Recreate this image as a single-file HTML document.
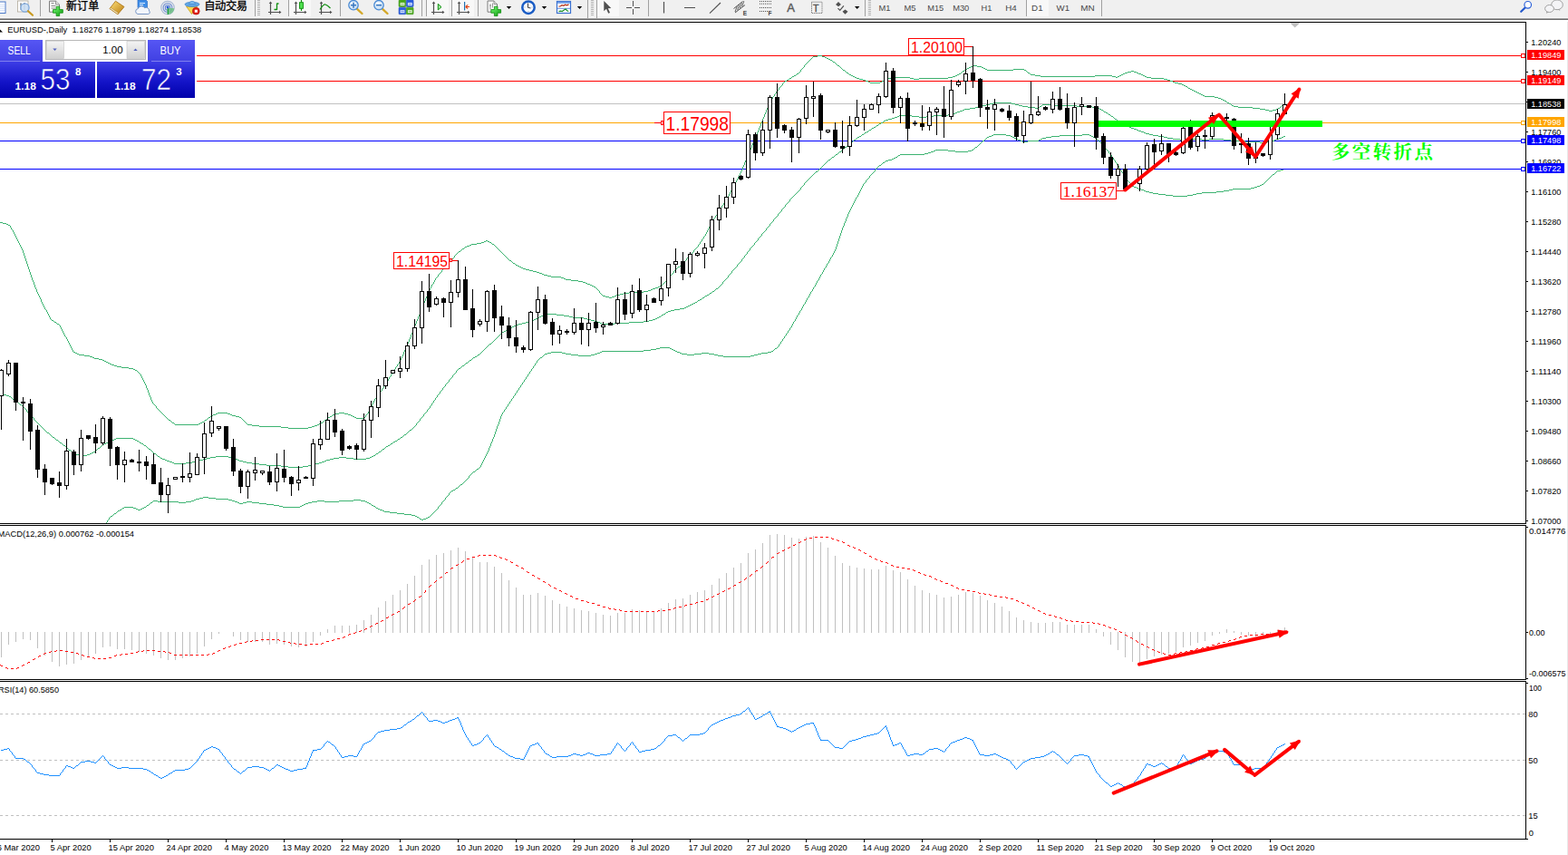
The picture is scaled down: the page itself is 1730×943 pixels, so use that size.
<!DOCTYPE html>
<html><head><meta charset="utf-8"><title>EURUSD Daily</title>
<style>
html,body{margin:0;padding:0;background:#fff;overflow:hidden}
body{width:1730px;height:943px;position:relative;font-family:"Liberation Sans",sans-serif}

</style></head><body>
<svg width="1730" height="943" viewBox="0 0 1730 943" style="position:absolute;left:0;top:0;display:block">
<defs><linearGradient id="gb" gradientUnits="userSpaceOnUse" x1="0" y1="68" x2="0" y2="108"><stop offset="0" stop-color="#3d3de6"/><stop offset="0.55" stop-color="#1414c8"/><stop offset="1" stop-color="#0000aa"/></linearGradient><linearGradient id="gt" x1="0" y1="0" x2="0" y2="1"><stop offset="0" stop-color="#5656f4"/><stop offset="1" stop-color="#4040e2"/></linearGradient><linearGradient id="gbtn" x1="0" y1="0" x2="0" y2="1"><stop offset="0" stop-color="#f4f4f4"/><stop offset="0.5" stop-color="#e2e2e2"/><stop offset="1" stop-color="#d0d0d0"/></linearGradient><linearGradient id="gplus" x1="0" y1="0" x2="1" y2="1"><stop offset="0" stop-color="#7dff7d"/><stop offset="1" stop-color="#0a9a0a"/></linearGradient><linearGradient id="ggold" x1="0" y1="0" x2="1" y2="1"><stop offset="0" stop-color="#ffe27a"/><stop offset="1" stop-color="#b87a10"/></linearGradient><radialGradient id="glens" cx="0.4" cy="0.35" r="0.7"><stop offset="0" stop-color="#ffffff"/><stop offset="1" stop-color="#b9d6f2"/></radialGradient><clipPath id="cm"><rect x="0" y="25" width="1683" height="552"/></clipPath><clipPath id="cd"><rect x="0" y="580" width="1683" height="169"/></clipPath><clipPath id="cr"><rect x="0" y="752" width="1683" height="173"/></clipPath></defs>
<rect width="1730" height="943" fill="#fff"/>
<g clip-path="url(#cm)">
<g shape-rendering="crispEdges">
<rect x="217" y="61" width="1466" height="1" fill="#ff0000"/>
<rect x="217" y="89" width="1466" height="1" fill="#ff0000"/>
<rect x="0" y="114" width="1683" height="1" fill="#c0c0c0"/>
<rect x="0" y="135" width="1683" height="1" fill="#ffa500"/>
<rect x="0" y="155" width="1683" height="1" fill="#0000ff"/>
<rect x="0" y="186" width="1683" height="1" fill="#0000ff"/>
</g>
<g stroke="#3cb371" stroke-width="1" fill="none" shape-rendering="crispEdges"><path transform="translate(0 .5)" d="M0 245h3M3 246h4M7 247h2M9 248h2M13 253h1M50 341h1M56 352h1M57 353h2M59 354h1M60 355h2M62 356h1M63 357h2M65 358h1M72 371h1M81 388h2M83 389h2M85 390h2M87 391h6M93 392h6M99 393h3M102 394h2M104 395h5M109 396h4M113 397h2M115 398h2M117 399h2M119 400h2M121 401h2M123 402h3M126 403h3M129 404h5M134 405h8M142 406h5M147 407h2M149 408h2M151 409h1M152 410h1M153 411h1M154 412h1M169 445h1M170 446h1M171 447h1M173 450h1M174 451h1M175 452h1M176 453h1M177 454h1M178 455h1M179 456h1M180 457h1M181 458h1M182 459h1M183 460h1M184 461h1M185 462h1M186 463h2M188 464h1M189 465h1M190 466h2M192 467h1M193 468h26M219 467h2M221 466h2M223 465h2M225 464h1M226 463h2M228 462h1M229 461h1M230 460h2M232 459h1M233 458h2M235 457h3M238 456h2M240 455h11M251 456h3M254 457h2M256 458h4M260 459h4M264 460h2M266 461h1M267 462h1M268 463h1M269 464h1M270 465h1M271 466h1M272 467h1M273 468h5M278 469h8M286 470h24M310 471h8M318 472h22M340 471h4M344 470h3M347 469h3M350 468h2M352 467h2M354 466h2M356 465h1M357 464h1M358 463h2M360 462h1M361 461h1M362 460h2M364 459h2M366 458h1M367 457h2M369 456h5M374 455h6M380 456h4M384 457h3M387 458h2M389 459h2M391 460h2M393 461h9M402 460h1M404 457h1M405 456h1M414 439h1M415 438h1M417 435h1M418 434h1M420 431h1M422 428h1M425 423h1M427 420h1M430 415h1M432 412h1M435 407h1M437 404h1M439 401h1M477 313h1M481 306h1M482 305h1M484 302h1M485 301h1M486 300h1M488 297h1M489 296h1M490 295h1M491 294h1M492 293h1M494 290h1M495 289h1M496 288h1M497 287h1M498 286h1M499 285h1M500 284h1M502 281h1M503 280h1M504 279h1M505 278h1M506 277h2M508 276h1M509 275h1M510 274h2M512 273h1M513 272h2M515 271h3M518 270h2M520 269h6M526 268h5M531 267h3M534 266h2M536 265h2M538 266h2M540 267h2M542 268h1M543 269h2M545 270h1M546 271h1M547 272h1M548 273h1M549 274h1M550 275h1M551 276h1M552 277h1M553 278h1M554 279h1M555 280h1M556 281h1M557 282h1M558 283h1M559 284h1M560 285h1M561 286h1M562 287h2M564 288h1M565 289h1M566 290h2M568 291h1M569 292h2M571 293h2M573 294h2M575 295h2M577 296h3M580 297h4M584 298h4M588 299h4M592 300h3M595 301h3M598 302h2M600 303h4M604 304h4M608 305h11M619 306h3M622 307h2M624 308h6M630 309h8M638 310h5M643 311h3M646 312h2M648 313h3M651 314h2M653 315h2M655 316h2M657 317h1M658 318h1M659 319h1M660 320h1M662 323h1M663 324h1M664 325h1M665 326h3M668 327h4M672 328h3M675 327h3M678 326h2M680 325h4M684 324h4M688 323h6M694 322h16M710 321h5M715 320h3M718 319h2M720 318h3M723 317h3M726 316h2M728 315h2M730 314h1M731 313h1M732 312h1M733 311h1M734 310h1M735 309h1M736 308h1M737 307h1M738 306h1M740 303h1M741 302h1M742 301h1M744 298h1M745 297h1M746 296h1M747 295h1M748 294h2M750 293h1M751 292h1M752 291h1M753 290h1M754 289h1M755 288h1M756 287h1M758 284h1M759 283h1M760 282h1M761 281h1M762 280h1M763 279h1M764 278h1M766 275h1M767 274h1M768 273h1M769 272h1M771 269h1M773 266h1M775 263h1M777 260h1M785 245h1M788 240h1M790 237h1M793 232h1M795 229h1M797 226h1M799 223h1M801 220h1M809 205h1M851 109h1M853 106h1M855 103h1M857 100h1M858 99h1M860 96h1M861 95h1M862 94h1M864 91h1M865 90h1M866 89h2M868 88h2M870 87h1M871 86h2M873 85h1M874 84h2M876 83h2M878 82h1M879 81h2M881 80h1M882 79h1M884 76h1M885 75h1M886 74h1M888 71h1M889 70h1M890 69h1M891 68h1M892 67h1M893 66h1M894 65h1M895 64h1M896 63h1M897 62h5M902 61h5M907 62h3M910 63h2M912 64h2M914 65h2M916 66h2M918 67h1M919 68h2M921 69h1M922 70h1M923 71h1M924 72h2M926 73h1M927 74h1M928 75h1M929 76h1M930 77h2M932 78h1M933 79h1M934 80h2M936 81h1M937 82h2M939 83h2M941 84h2M943 85h2M945 86h3M948 87h4M952 88h3M955 89h3M958 90h2M960 91h11M971 90h2M973 89h2M975 88h2M977 87h3M980 86h4M984 85h20M1004 86h4M1008 87h6M1014 86h32M1046 85h5M1051 84h3M1054 83h2M1056 82h2M1058 81h2M1060 80h1M1061 79h1M1062 78h2M1064 77h1M1065 76h2M1067 75h2M1069 74h2M1071 73h2M1073 72h5M1078 73h5M1083 74h2M1085 75h2M1087 76h2M1089 77h29M1118 76h12M1130 77h2M1132 78h1M1133 79h1M1134 80h2M1136 81h1M1137 82h5M1142 83h6M1148 84h60M1208 83h19M1227 84h4M1231 85h2M1233 84h2M1235 83h2M1237 82h2M1239 81h2M1241 80h3M1244 79h4M1248 78h3M1251 79h3M1254 80h2M1256 81h3M1259 82h2M1261 83h2M1263 84h2M1265 85h5M1270 86h14M1284 87h4M1288 88h3M1291 89h3M1294 90h2M1296 91h4M1300 92h4M1304 93h2M1306 94h2M1308 95h2M1310 96h1M1311 97h2M1313 98h2M1315 99h2M1317 100h2M1319 101h2M1321 102h2M1323 103h2M1325 104h2M1327 105h2M1329 106h11M1340 107h4M1344 108h3M1347 109h2M1349 110h2M1351 111h2M1353 112h1M1354 113h2M1356 114h2M1358 115h1M1359 116h2M1361 117h5M1366 118h16M1382 119h8M1390 120h6M1396 121h4M1400 122h4M1404 121h4M1408 120h2M1410 119h2M1412 118h1M1413 117h1M1414 116h2M1416 115h1M1417 114h1"/><path transform="translate(.5 0)" d="M11 249v2M12 251v2M14 254v2M15 256v2M16 258v2M17 260v2M18 262v2M19 264v2M20 266v2M21 268v2M22 270v2M23 272v2M24 274v2M25 276v3M26 279v3M27 282v3M28 285v3M29 288v3M30 291v3M31 294v3M32 297v3M33 300v3M34 303v3M35 306v3M36 309v2M37 311v3M38 314v3M39 317v2M40 319v3M41 322v2M42 324v2M43 326v2M44 328v2M45 330v3M46 333v2M47 335v2M48 337v2M49 339v2M51 342v2M52 344v2M53 346v2M54 348v2M55 350v2M66 359v2M67 361v2M68 363v2M69 365v2M70 367v2M71 369v2M73 372v2M74 374v2M75 376v2M76 378v2M77 380v2M78 382v2M79 384v2M80 386v2M155 413v2M156 415v2M157 417v2M158 419v2M159 421v2M160 423v2M161 425v3M162 428v2M163 430v3M164 433v3M165 436v2M166 438v3M167 441v2M168 443v2M172 448v2M403 458v2M406 454v2M407 452v2M408 450v2M409 448v2M410 446v2M411 444v2M412 442v2M413 440v2M416 436v2M419 432v2M421 429v2M423 426v2M424 424v2M426 421v2M428 418v2M429 416v2M431 413v2M433 410v2M434 408v2M436 405v2M438 402v2M440 399v2M441 397v2M442 395v2M443 393v2M444 391v2M445 388v3M446 386v2M447 384v2M448 382v2M449 379v3M450 377v2M451 374v3M452 372v2M453 369v3M454 367v2M455 364v3M456 362v2M457 359v3M458 357v2M459 354v3M460 352v2M461 349v3M462 347v2M463 344v3M464 342v2M465 339v3M466 337v2M467 334v3M468 332v2M469 329v3M470 327v2M471 324v3M472 322v2M473 320v2M474 318v2M475 316v2M476 314v2M478 311v2M479 309v2M480 307v2M483 303v2M487 298v2M493 291v2M501 282v2M661 321v2M739 304v2M743 299v2M757 285v2M765 276v2M770 270v2M772 267v2M774 264v2M776 261v2M778 258v2M779 256v2M780 254v2M781 252v2M782 250v2M783 248v2M784 246v2M786 243v2M787 241v2M789 238v2M791 235v2M792 233v2M794 230v2M796 227v2M798 224v2M800 221v2M802 218v2M803 216v2M804 214v2M805 212v2M806 210v2M807 208v2M808 206v2M810 203v2M811 201v2M812 199v2M813 197v2M814 195v2M815 193v2M816 191v2M817 189v2M818 187v2M819 184v3M820 182v2M821 179v3M822 177v2M823 174v3M824 172v2M825 169v3M826 167v2M827 165v2M828 163v2M829 160v3M830 158v2M831 156v2M832 154v2M833 151v3M834 149v2M835 146v3M836 144v2M837 141v3M838 139v2M839 136v3M840 134v2M841 131v3M842 129v2M843 126v3M844 124v2M845 121v3M846 119v2M847 116v3M848 114v2M849 112v2M850 110v2M852 107v2M854 104v2M856 101v2M859 97v2M863 92v2M883 77v2M887 72v2"/></g>
<g stroke="#3cb371" stroke-width="1" fill="none" shape-rendering="crispEdges"><path transform="translate(0 .5)" d="M4 435h3M7 436h3M10 437h2M12 438h1M13 439h1M14 440h2M16 441h1M17 442h1M18 443h2M20 444h1M21 445h1M22 446h2M24 447h1M25 448h1M26 449h1M27 450h1M28 451h1M30 454h1M31 455h1M32 456h1M33 457h1M34 458h1M35 459h1M36 460h1M38 463h1M39 464h1M40 465h1M41 466h1M42 467h1M43 468h1M44 469h1M45 470h1M46 471h1M47 472h1M48 473h1M49 474h1M50 475h1M51 476h1M52 477h2M54 478h1M55 479h1M56 480h1M57 481h1M58 482h2M60 483h1M61 484h1M62 485h2M64 486h1M65 487h1M66 488h2M68 489h1M69 490h1M70 491h2M72 492h1M73 493h1M74 494h1M75 495h1M76 496h2M78 497h1M79 498h1M80 499h1M81 500h3M84 501h6M90 502h6M96 501h3M99 500h2M101 499h2M103 498h2M105 497h1M106 496h1M107 495h1M108 494h2M110 493h1M111 492h1M112 491h1M113 490h2M115 489h2M117 488h2M119 487h2M121 486h2M123 485h3M126 484h2M128 483h19M147 484h2M149 485h2M151 486h2M153 487h1M154 488h2M156 489h2M158 490h1M159 491h2M161 492h1M162 493h1M163 494h1M164 495h2M166 496h1M167 497h1M168 498h1M169 499h1M170 500h2M172 501h1M173 502h1M174 503h2M176 504h1M177 505h2M179 506h3M182 507h2M184 508h3M187 509h3M190 510h2M192 511h13M205 510h7M212 509h4M216 508h4M220 507h4M224 506h4M228 505h4M232 504h6M238 503h14M252 504h4M256 505h3M259 506h3M262 507h2M264 508h4M268 509h4M272 510h6M278 511h8M286 512h8M294 513h16M310 514h8M318 515h16M334 514h6M340 513h4M344 512h4M348 511h4M352 510h3M355 509h3M358 508h2M360 507h4M364 506h4M368 505h6M374 504h8M382 505h8M390 506h14M404 505h4M408 504h2M410 503h2M412 502h2M414 501h1M415 500h2M417 499h1M418 498h2M420 497h1M421 496h1M422 495h2M424 494h1M425 493h1M426 492h2M428 491h2M430 490h1M431 489h2M433 488h1M434 487h2M436 486h2M438 485h1M439 484h2M441 483h1M442 482h2M444 481h1M445 480h1M446 479h2M448 478h1M449 477h1M450 476h1M451 475h1M452 474h2M454 473h1M455 472h1M456 471h1M457 470h1M458 469h1M460 466h1M461 465h1M462 464h1M464 461h1M465 460h1M466 459h1M468 456h1M469 455h1M470 454h1M472 451h1M473 450h1M475 447h1M477 444h1M479 441h1M481 438h1M483 435h1M484 434h1M486 431h1M487 430h1M489 427h1M490 426h1M492 423h1M493 422h1M494 421h1M496 418h1M497 417h1M498 416h1M500 413h1M501 412h1M502 411h1M504 408h1M505 407h1M506 406h2M508 405h1M509 404h1M510 403h2M512 402h1M513 401h1M514 400h2M516 399h1M517 398h1M518 397h2M520 396h1M521 395h1M522 394h2M524 393h2M526 392h1M527 391h2M529 390h1M530 389h1M531 388h1M532 387h1M533 386h1M534 385h1M535 384h1M536 383h1M537 382h1M538 381h1M539 380h1M540 379h2M542 378h1M543 377h1M544 376h1M545 375h1M546 374h1M547 373h1M548 372h1M549 371h1M550 370h1M551 369h1M552 368h1M553 367h1M554 366h2M556 365h2M558 364h1M559 363h2M561 362h2M563 361h2M565 360h2M567 359h2M569 358h3M572 357h4M576 356h4M580 355h4M584 354h3M587 353h2M589 352h2M591 351h2M593 350h2M595 349h2M597 348h2M599 347h2M601 346h13M614 347h8M622 348h6M628 349h4M632 350h12M644 351h4M648 352h4M652 353h4M656 354h3M659 355h3M662 356h2M664 357h14M678 356h16M694 355h16M710 354h6M716 353h4M720 352h3M723 351h2M725 350h2M727 349h2M729 348h1M730 347h2M732 346h2M734 345h1M735 344h2M737 343h3M740 342h4M744 341h6M750 340h5M755 339h2M757 338h2M759 337h2M761 336h2M763 335h2M765 334h2M767 333h2M769 332h1M770 331h2M772 330h2M774 329h1M775 328h2M777 327h1M778 326h2M780 325h2M782 324h1M783 323h2M785 322h1M786 321h2M788 320h1M789 319h1M790 318h2M792 317h1M793 316h1M794 315h1M795 314h1M796 313h1M798 310h1M799 309h1M800 308h1M801 307h1M802 306h1M804 303h1M805 302h1M806 301h1M808 298h1M809 297h1M810 296h1M811 295h1M812 294h1M814 291h1M815 290h1M816 289h1M817 288h1M819 285h1M820 284h1M822 281h1M823 280h1M825 277h1M826 276h1M828 273h1M829 272h1M830 271h1M831 270h1M833 267h1M834 266h1M835 265h1M837 262h1M838 261h1M839 260h1M841 257h1M842 256h1M843 255h1M844 254h1M846 251h1M847 250h1M848 249h1M850 246h1M851 245h1M852 244h1M854 241h1M855 240h1M856 239h1M857 238h1M859 235h1M860 234h1M861 233h1M863 230h1M864 229h1M865 228h1M867 225h1M868 224h1M869 223h1M870 222h1M872 219h1M873 218h1M874 217h1M875 216h1M876 215h1M877 214h1M878 213h1M879 212h1M880 211h1M881 210h1M882 209h1M884 206h1M885 205h1M886 204h1M888 201h1M889 200h1M890 199h1M891 198h1M892 197h1M893 196h1M894 195h1M895 194h1M896 193h1M897 192h1M898 191h1M899 190h1M900 189h2M902 188h1M903 187h1M904 186h1M905 185h1M906 184h1M907 183h1M908 182h1M909 181h1M910 180h1M911 179h1M912 178h1M913 177h1M914 176h2M916 175h1M917 174h1M918 173h2M920 172h1M921 171h1M922 170h2M924 169h1M925 168h1M926 167h2M928 166h1M929 165h1M930 164h1M931 163h1M932 162h2M934 161h1M935 160h1M936 159h1M937 158h1M938 157h2M940 156h1M941 155h1M942 154h2M944 153h1M945 152h1M946 151h2M948 150h2M950 149h1M951 148h2M953 147h1M954 146h2M956 145h2M958 144h1M959 143h2M961 142h1M962 141h2M964 140h2M966 139h1M967 138h2M969 137h1M970 136h2M972 135h2M974 134h1M975 133h2M977 132h3M980 131h4M984 130h3M987 129h3M990 128h2M992 127h14M1006 128h8M1014 129h8M1022 128h8M1030 127h16M1046 126h5M1051 125h3M1054 124h2M1056 123h3M1059 122h3M1062 121h2M1064 120h6M1070 119h6M1076 118h4M1080 117h4M1084 116h4M1088 115h4M1092 114h4M1096 113h20M1116 114h4M1120 115h4M1124 116h4M1128 117h6M1134 118h8M1142 119h4M1146 118h1M1147 117h2M1149 116h1M1150 115h13M1163 116h25M1188 117h17M1205 118h6M1211 119h2M1213 120h2M1215 121h2M1217 122h1M1218 123h2M1220 124h2M1222 125h1M1223 126h2M1225 127h1M1226 128h2M1228 129h1M1229 130h1M1230 131h2M1232 132h1M1233 133h1M1234 134h2M1236 135h2M1238 136h1M1239 137h2M1241 138h2M1243 139h3M1246 140h2M1248 141h3M1251 142h3M1254 143h2M1256 144h3M1259 145h3M1262 146h2M1264 147h4M1268 148h4M1272 149h6M1278 150h6M1284 151h4M1288 152h6M1294 153h8M1302 154h8M1310 153h16M1326 154h8M1334 153h16M1350 154h8M1358 155h16M1374 156h16M1390 157h8M1398 156h5M1403 155h3M1406 154h2M1408 153h3M1411 152h3M1414 151h2M1416 150h2"/><path transform="translate(.5 0)" d="M29 452v2M37 461v2M459 467v2M463 462v2M467 457v2M471 452v2M474 448v2M476 445v2M478 442v2M480 439v2M482 436v2M485 432v2M488 428v2M491 424v2M495 419v2M499 414v2M503 409v2M797 311v2M803 304v2M807 299v2M813 292v2M818 286v2M821 282v2M824 278v2M827 274v2M832 268v2M836 263v2M840 258v2M845 252v2M849 247v2M853 242v2M858 236v2M862 231v2M866 226v2M871 220v2M883 207v2M887 202v2"/></g>
<g stroke="#3cb371" stroke-width="1" fill="none" shape-rendering="crispEdges"><path transform="translate(0 .5)" d="M117 576h1M119 573h1M121 570h1M122 569h2M124 568h1M125 567h1M126 566h2M128 565h1M129 564h1M130 563h2M132 562h2M134 561h1M135 560h2M137 559h10M147 560h3M150 561h2M152 562h3M155 561h2M157 560h2M159 559h2M161 558h1M162 557h2M164 556h1M165 555h1M166 554h2M168 553h1M169 552h5M174 553h23M197 554h8M205 553h6M211 552h3M214 551h2M216 550h4M220 549h4M224 548h6M230 549h8M238 550h14M252 551h4M256 552h3M259 553h3M262 554h2M264 555h4M268 554h4M272 553h6M278 554h8M286 555h8M294 556h8M302 557h6M308 558h4M312 559h19M331 558h2M333 557h2M335 556h2M337 555h3M340 554h4M344 553h6M350 552h8M358 553h16M374 552h16M390 551h8M398 552h5M403 553h2M405 554h2M407 555h2M409 556h1M410 557h2M412 558h2M414 559h1M415 560h2M417 561h2M419 562h3M422 563h2M424 564h6M430 565h8M438 566h8M446 567h8M454 568h4M458 569h2M460 570h2M462 571h1M463 572h2M465 573h2M467 572h3M470 571h2M472 570h2M474 569h1M475 568h1M476 567h1M477 566h1M478 565h1M479 564h1M480 563h1M481 562h1M482 561h1M484 558h1M485 557h1M486 556h1M488 553h1M489 552h1M490 551h1M492 548h1M493 547h1M494 546h1M496 543h1M497 542h1M498 541h2M500 540h2M502 539h1M503 538h2M505 537h1M506 536h1M507 535h1M508 534h2M510 533h1M511 532h1M512 531h1M513 530h1M514 529h1M515 528h1M516 527h1M518 524h1M519 523h1M520 522h1M521 521h1M522 520h2M524 519h1M525 518h1M526 517h2M528 516h1M529 515h1M555 454h1M557 451h1M559 448h1M561 445h1M563 442h1M565 439h1M567 436h1M569 433h1M571 430h1M573 427h1M575 424h1M577 421h1M579 418h1M581 415h1M583 412h1M585 409h1M587 406h1M589 403h1M591 400h1M593 397h1M594 396h1M595 395h1M596 394h2M598 393h1M599 392h1M600 391h1M601 390h3M604 389h4M608 388h12M620 389h4M624 390h6M630 391h8M638 392h14M652 391h4M656 390h3M659 389h3M662 388h2M664 387h46M710 386h8M718 385h6M724 384h4M728 383h11M739 384h2M741 385h2M743 386h2M745 387h2M747 388h3M750 389h2M752 390h6M758 391h8M766 390h8M774 389h8M782 390h6M788 391h4M792 392h6M798 393h30M828 392h4M832 391h4M836 390h4M840 389h7M847 388h4M851 387h2M853 386h1M854 385h1M855 384h2M857 383h1M858 382h1M860 379h1M862 376h1M864 373h1M866 370h1M868 367h1M870 364h1M872 361h1M876 354h1M880 347h1M883 342h1M887 335h1M891 328h1M895 321h1M898 316h1M902 309h1M906 302h1M910 295h1M913 290h1M917 283h1M945 217h1M953 202h1M954 201h1M956 198h1M957 197h1M958 196h1M960 193h1M961 192h1M962 191h1M963 190h1M964 189h1M966 186h1M967 185h1M968 184h1M969 183h1M970 182h2M972 181h1M973 180h1M974 179h2M976 178h1M977 177h3M980 176h4M984 175h2M986 174h2M988 173h2M990 172h1M991 171h2M993 170h27M1020 169h4M1024 168h3M1027 167h3M1030 166h2M1032 165h14M1046 166h8M1054 167h14M1068 166h4M1072 165h2M1074 164h1M1075 163h1M1076 162h2M1078 161h1M1079 160h1M1080 159h1M1081 158h1M1082 157h1M1083 156h1M1084 155h2M1086 154h1M1087 153h1M1088 152h1M1089 151h2M1091 150h3M1094 149h2M1096 148h14M1110 149h5M1115 150h2M1117 151h2M1119 152h2M1121 153h2M1123 154h3M1126 155h2M1128 156h6M1134 155h12M1146 154h2M1148 153h2M1150 152h4M1154 151h6M1160 150h9M1169 149h25M1194 148h8M1202 149h2M1204 150h2M1206 151h2M1208 152h2M1210 153h1M1211 154h1M1212 155h1M1213 156h1M1214 157h1M1215 158h1M1216 159h1M1217 160h1M1218 161h1M1220 164h1M1221 165h1M1222 166h1M1224 169h1M1225 170h1M1227 173h1M1229 176h1M1231 179h1M1233 182h1M1236 187h1M1238 190h1M1241 195h1M1242 196h1M1244 199h1M1245 200h1M1246 201h1M1248 204h1M1249 205h2M1251 206h3M1254 207h2M1256 208h3M1259 209h3M1262 210h2M1264 211h4M1268 212h4M1272 213h6M1278 214h8M1286 215h8M1294 216h16M1310 215h6M1316 214h4M1320 213h6M1326 212h16M1342 211h8M1350 210h6M1356 209h4M1360 208h20M1380 207h4M1384 206h3M1387 205h3M1390 204h2M1392 203h2M1394 202h1M1395 201h1M1396 200h1M1397 199h1M1398 198h1M1399 197h1M1400 196h1M1401 195h1M1402 194h1M1403 193h1M1404 192h2M1406 191h1M1407 190h1M1408 189h1M1409 188h4M1413 187h3"/><path transform="translate(.5 0)" d="M118 574v2M120 571v2M483 559v2M487 554v2M491 549v2M495 544v2M517 525v2M530 513v2M531 511v2M532 509v2M533 507v2M534 505v2M535 503v2M536 501v2M537 499v2M538 497v2M539 494v3M540 492v2M541 489v3M542 487v2M543 484v3M544 482v2M545 479v3M546 476v3M547 473v3M548 470v3M549 468v2M550 465v3M551 462v3M552 459v3M553 457v2M554 455v2M556 452v2M558 449v2M560 446v2M562 443v2M564 440v2M566 437v2M568 434v2M570 431v2M572 428v2M574 425v2M576 422v2M578 419v2M580 416v2M582 413v2M584 410v2M586 407v2M588 404v2M590 401v2M592 398v2M859 380v2M861 377v2M863 374v2M865 371v2M867 368v2M869 365v2M871 362v2M873 359v2M874 357v2M875 355v2M877 352v2M878 350v2M879 348v2M881 345v2M882 343v2M884 340v2M885 338v2M886 336v2M888 333v2M889 331v2M890 329v2M892 326v2M893 324v2M894 322v2M896 319v2M897 317v2M899 314v2M900 312v2M901 310v2M903 307v2M904 305v2M905 303v2M907 300v2M908 298v2M909 296v2M911 293v2M912 291v2M914 288v2M915 286v2M916 284v2M918 281v2M919 279v2M920 277v2M921 275v2M922 272v3M923 269v3M924 266v3M925 263v3M926 260v3M927 257v3M928 254v3M929 251v3M930 249v2M931 246v3M932 244v2M933 241v3M934 239v2M935 236v3M936 234v2M937 232v2M938 230v2M939 228v2M940 226v2M941 224v2M942 222v2M943 220v2M944 218v2M946 215v2M947 213v2M948 211v2M949 209v2M950 207v2M951 205v2M952 203v2M955 199v2M959 194v2M965 187v2M1219 162v2M1223 167v2M1226 171v2M1228 174v2M1230 177v2M1232 180v2M1234 183v2M1235 185v2M1237 188v2M1239 191v2M1240 193v2M1243 197v2M1247 202v2"/></g>
<g shape-rendering="crispEdges">
<path d="M1.5 407V474M9.5 397V415M17.5 400V453M25.5 438V486M33.5 440V496M41.5 469V527M49.5 512V546M57.5 527V535M65.5 520V549M73.5 484V540M81.5 496V524M89.5 474V520M97.5 480V485M105.5 468V500M113.5 459V491M121.5 460V514M129.5 492V529M137.5 498V532M145.5 506V510M153.5 496V520M161.5 503V529M169.5 500V534M177.5 516V554M185.5 527V566M193.5 526V529M201.5 511V532M209.5 499V532M217.5 500V524M225.5 466V523M233.5 448V482M241.5 470V475M249.5 470V497M257.5 484V525M265.5 517V544M273.5 518V550M281.5 504V530M289.5 519V524M297.5 514V535M305.5 500V542M313.5 496V532M321.5 525V547M329.5 514V541M337.5 525V528M345.5 484V536M353.5 464V496M361.5 455V485M369.5 451V482M377.5 473V502M385.5 491V496M393.5 489V507M401.5 456V498M409.5 442V483M417.5 418V460M425.5 397V429M433.5 408V412M441.5 393V417M449.5 377V410M457.5 352V385M465.5 310V379M473.5 302V344M481.5 327V337M489.5 328V350M497.5 309V361M505.5 287V328M513.5 294V342M521.5 319V372M529.5 352V360M537.5 320V366M545.5 314V366M553.5 337V374M561.5 350V382M569.5 353V389M577.5 381V389M585.5 343V387M593.5 316V364M601.5 325V358M609.5 351V381M617.5 359V379M625.5 363V369M633.5 340V369M641.5 350V380M649.5 345V382M657.5 334V367M665.5 355V369M673.5 355V359M681.5 317V358M689.5 322V353M697.5 314V351M705.5 307V344M713.5 325V355M721.5 328V334M729.5 305V337M737.5 291V327M745.5 274V301M753.5 278V309M761.5 278V306M769.5 277V283M777.5 268V296M785.5 238V277M793.5 215V254M801.5 205V240M809.5 196V225M817.5 193V199M825.5 143V197M833.5 146V177M841.5 133V172M849.5 105V164M857.5 92V152M865.5 137V147M873.5 140V179M881.5 130V169M889.5 94V137M897.5 90V129M905.5 103V154M913.5 143V147M921.5 135V163M929.5 133V169M937.5 128V172M945.5 110V140M953.5 115V144M961.5 114V121M969.5 103V125M977.5 69V108M985.5 75V125M993.5 106V136M1001.5 102V156M1009.5 133V139M1017.5 116V144M1025.5 118V144M1033.5 118V149M1041.5 95V152M1049.5 88V132M1057.5 88V96M1065.5 69V104M1073.5 51V97M1081.5 86V129M1089.5 110V142M1097.5 109V144M1105.5 119V124M1113.5 116V133M1121.5 125V155M1129.5 122V158M1137.5 90V137M1145.5 106V128M1153.5 117V122M1161.5 101V125M1169.5 96V122M1177.5 103V142M1185.5 113V162M1193.5 107V127M1201.5 116V119M1209.5 107V165M1217.5 147V181M1225.5 168V197M1233.5 181V206M1241.5 181V211M1257.5 183V211M1265.5 157V189M1273.5 153V187M1281.5 148V171M1289.5 158V179M1297.5 167V172M1305.5 140V170M1313.5 132V165M1321.5 148V167M1329.5 143V164M1337.5 124V154M1353.5 125V136M1361.5 130V165M1369.5 147V169M1377.5 152V182M1385.5 157V180M1393.5 169V173M1401.5 140V176M1409.5 120V154M1417.5 103V126" stroke="#000" stroke-width="1" fill="none"/>
<path d="M15 400h5V444h-5zM23 443h5V445h-5zM31 445h5V476h-5zM39 474h5V518h-5zM47 517h5V532h-5zM55 527h5V534h-5zM63 532h5V536h-5zM79 498h5V513h-5zM95 480h5V484h-5zM103 482h5V489h-5zM119 462h5V495h-5zM127 493h5V513h-5zM143 507h5V510h-5zM151 509h5V511h-5zM159 509h5V514h-5zM167 512h5V534h-5zM175 532h5V546h-5zM199 525h5V527h-5zM247 470h5V495h-5zM255 493h5V520h-5zM263 519h5V537h-5zM295 520h5V532h-5zM311 517h5V527h-5zM319 526h5V534h-5zM335 526h5V528h-5zM367 463h5V477h-5zM375 475h5V497h-5zM383 492h5V495h-5zM391 491h5V496h-5zM471 321h5V339h-5zM487 329h5V334h-5zM511 308h5V342h-5zM519 340h5V364h-5zM543 320h5V351h-5zM551 349h5V359h-5zM559 359h5V373h-5zM567 372h5V382h-5zM575 383h5V386h-5zM599 330h5V357h-5zM607 355h5V369h-5zM623 365h5V367h-5zM639 356h5V364h-5zM655 355h5V362h-5zM671 356h5V359h-5zM687 330h5V347h-5zM703 320h5V342h-5zM719 329h5V334h-5zM751 288h5V302h-5zM815 194h5V198h-5zM831 148h5V169h-5zM855 107h5V142h-5zM863 138h5V144h-5zM871 143h5V152h-5zM903 105h5V144h-5zM919 143h5V162h-5zM927 161h5V164h-5zM983 78h5V119h-5zM999 108h5V142h-5zM1007 135h5V137h-5zM1015 136h5V140h-5zM1039 120h5V129h-5zM1071 80h5V89h-5zM1079 87h5V119h-5zM1087 118h5V121h-5zM1103 120h5V123h-5zM1111 122h5V130h-5zM1119 128h5V151h-5zM1151 118h5V121h-5zM1167 109h5V121h-5zM1175 119h5V136h-5zM1199 116h5V119h-5zM1207 117h5V152h-5zM1215 150h5V174h-5zM1223 173h5V194h-5zM1239 186h5V209h-5zM1271 159h5V168h-5zM1287 158h5V171h-5zM1295 168h5V171h-5zM1311 140h5V163h-5zM1327 149h5V151h-5zM1351 129h5V131h-5zM1359 131h5V161h-5zM1367 158h5V160h-5zM1375 158h5V175h-5zM1383 173h5V175h-5zM1391 169h5V172h-5z" fill="#000"/>
<path d="M-0.5 408.5h4V436.5h-4zM7.5 400.5h4V412.5h-4zM71.5 497.5h4V535.5h-4zM87.5 483.5h4V512.5h-4zM111.5 461.5h4V488.5h-4zM135.5 507.5h4V512.5h-4zM183.5 535.5h4V545.5h-4zM191.5 526.5h4V528.5h-4zM207.5 522.5h4V526.5h-4zM215.5 504.5h4V523.5h-4zM223.5 478.5h4V504.5h-4zM231.5 464.5h4V477.5h-4zM239.5 470.5h4V472.5h-4zM271.5 520.5h4V536.5h-4zM279.5 518.5h4V521.5h-4zM287.5 519.5h4V521.5h-4zM303.5 516.5h4V531.5h-4zM327.5 529.5h4V532.5h-4zM343.5 489.5h4V527.5h-4zM351.5 484.5h4V490.5h-4zM359.5 463.5h4V484.5h-4zM399.5 463.5h4V495.5h-4zM407.5 448.5h4V463.5h-4zM415.5 425.5h4V449.5h-4zM423.5 416.5h4V425.5h-4zM431.5 408.5h4V411.5h-4zM439.5 406.5h4V409.5h-4zM447.5 381.5h4V406.5h-4zM455.5 361.5h4V381.5h-4zM463.5 321.5h4V361.5h-4zM479.5 329.5h4V335.5h-4zM495.5 322.5h4V333.5h-4zM503.5 308.5h4V322.5h-4zM527.5 354.5h4V357.5h-4zM535.5 321.5h4V354.5h-4zM583.5 344.5h4V385.5h-4zM591.5 330.5h4V344.5h-4zM615.5 364.5h4V368.5h-4zM631.5 356.5h4V366.5h-4zM647.5 356.5h4V363.5h-4zM663.5 358.5h4V360.5h-4zM679.5 330.5h4V356.5h-4zM695.5 321.5h4V345.5h-4zM711.5 336.5h4V341.5h-4zM727.5 318.5h4V331.5h-4zM735.5 291.5h4V317.5h-4zM743.5 288.5h4V291.5h-4zM759.5 280.5h4V301.5h-4zM767.5 279.5h4V281.5h-4zM775.5 273.5h4V279.5h-4zM783.5 242.5h4V272.5h-4zM791.5 229.5h4V242.5h-4zM799.5 217.5h4V229.5h-4zM807.5 201.5h4V217.5h-4zM823.5 148.5h4V195.5h-4zM839.5 143.5h4V168.5h-4zM847.5 107.5h4V143.5h-4zM879.5 131.5h4V151.5h-4zM887.5 107.5h4V130.5h-4zM895.5 106.5h4V108.5h-4zM911.5 143.5h4V145.5h-4zM935.5 138.5h4V161.5h-4zM943.5 129.5h4V138.5h-4zM951.5 120.5h4V129.5h-4zM959.5 115.5h4V120.5h-4zM967.5 106.5h4V115.5h-4zM975.5 78.5h4V106.5h-4zM991.5 108.5h4V118.5h-4zM1023.5 123.5h4V138.5h-4zM1031.5 120.5h4V123.5h-4zM1047.5 99.5h4V128.5h-4zM1055.5 90.5h4V93.5h-4zM1063.5 81.5h4V89.5h-4zM1095.5 115.5h4V120.5h-4zM1127.5 134.5h4V149.5h-4zM1135.5 126.5h4V135.5h-4zM1143.5 123.5h4V126.5h-4zM1159.5 109.5h4V120.5h-4zM1183.5 118.5h4V135.5h-4zM1191.5 115.5h4V117.5h-4zM1231.5 186.5h4V193.5h-4zM1255.5 186.5h4V202.5h-4zM1263.5 160.5h4V186.5h-4zM1279.5 158.5h4V166.5h-4zM1303.5 141.5h4V168.5h-4zM1319.5 150.5h4V161.5h-4zM1335.5 127.5h4V150.5h-4zM1399.5 148.5h4V170.5h-4zM1407.5 125.5h4V148.5h-4zM1415.5 115.5h4V125.5h-4z" fill="#fff" stroke="#000" stroke-width="1"/>
<rect x="1212" y="133" width="247" height="7" fill="#00ff00"/>
</g>
<rect x="1002.5" y="42.5" width="61" height="18" fill="#fff" stroke="#ff0000" stroke-width="1" shape-rendering="crispEdges"/>
<text x="1005" y="57.7" font-family="Liberation Sans, sans-serif" font-size="16" fill="#ff0000" textLength="57" lengthAdjust="spacingAndGlyphs">1.20100</text>
<path d="M1064 51.5H1073" stroke="#f00" stroke-width="1" shape-rendering="crispEdges"/>
<rect x="732.5" y="123.5" width="73" height="24" fill="#fff" stroke="#ff0000" stroke-width="1" shape-rendering="crispEdges"/>
<text x="734.5" y="144" font-family="Liberation Sans, sans-serif" font-size="22" fill="#ff0000" textLength="69.5" lengthAdjust="spacingAndGlyphs">1.17998</text>
<path d="M722 135.5H729" stroke="#f00" stroke-width="1" shape-rendering="crispEdges"/><rect x="729.5" y="133.5" width="2" height="4" fill="#fff" stroke="#f00" shape-rendering="crispEdges"/>
<rect x="434.5" y="278.5" width="61" height="18" fill="#fff" stroke="#ff0000" stroke-width="1" shape-rendering="crispEdges"/>
<text x="437" y="293.8" font-family="Liberation Sans, sans-serif" font-size="16" fill="#ff0000" textLength="57" lengthAdjust="spacingAndGlyphs">1.14195</text>
<rect x="496.5" y="285.5" width="2" height="3" fill="#fff" stroke="#f00" shape-rendering="crispEdges"/><path d="M499 287.5H505" stroke="#f00" stroke-width="1" shape-rendering="crispEdges"/>
<rect x="1170.5" y="201.5" width="61" height="18" fill="#fff" stroke="#ff0000" stroke-width="1" shape-rendering="crispEdges"/>
<text x="1172.6" y="217" font-family="Liberation Serif, serif" font-size="17" fill="#ff0000" textLength="57.600000000000136" lengthAdjust="spacingAndGlyphs">1.16137</text>
<path d="M1232 210.5H1241" stroke="#f00" stroke-width="1" shape-rendering="crispEdges"/>
<text x="1469" y="175.3" font-family="'Liberation Serif', 'Noto Serif CJK SC', serif" font-size="20.5" font-weight="bold" fill="#00ff00" letter-spacing="2.35">多空转折点</text>
<path d="M1241.5 209.5L1343 127.8" stroke="#ff0000" stroke-width="4.0" stroke-linecap="round"/>
<path d="M1345 126.2L1339.1 137.1L1333 129.7z" fill="#ff0000"/>
<path d="M1345 126.5L1383.5 171" stroke="#ff0000" stroke-width="4.0" stroke-linecap="round"/>
<path d="M1385.2 173L1374 167.4L1381.3 161.2z" fill="#ff0000"/>
<path d="M1385.2 173L1433.4 98.7" stroke="#ff0000" stroke-width="4.0" stroke-linecap="round"/>
<path d="M1434.8 96.5L1432.6 108.8L1424.5 103.5z" fill="#ff0000"/>
</g>
<g clip-path="url(#cd)">
<path d="M1.5 697V725M9.5 697V711M17.5 697V708M25.5 697V705M33.5 697V706M41.5 697V715M49.5 697V723M57.5 697V730M65.5 697V735M73.5 697V733M81.5 697V732M89.5 697V728M97.5 697V724M105.5 697V721M113.5 697V714M121.5 697V713M129.5 697V716M137.5 697V716M145.5 697V717M153.5 697V719M161.5 697V721M169.5 697V723M177.5 697V726M185.5 697V728M193.5 697V728M201.5 697V726M209.5 697V724M217.5 697V721M225.5 697V713M233.5 697V705M241.5 697V699M257.5 697V702M265.5 697V706M273.5 697V708M281.5 697V708M289.5 697V708M297.5 697V711M305.5 697V710M313.5 697V711M321.5 697V713M329.5 697V714M337.5 697V713M345.5 697V708M353.5 697V701M361.5 694V698M369.5 690V698M377.5 690V698M385.5 690V698M393.5 689V698M401.5 684V698M409.5 678V698M417.5 670V698M425.5 663V698M433.5 656V698M441.5 651V698M449.5 644V698M457.5 635V698M465.5 623V698M473.5 617V698M481.5 612V698M489.5 610V698M497.5 607V698M505.5 604V698M513.5 608V698M521.5 615V698M529.5 620V698M537.5 620V698M545.5 625V698M553.5 632V698M561.5 640V698M569.5 648V698M577.5 656V698M585.5 656V698M593.5 654V698M601.5 657V698M609.5 662V698M617.5 666V698M625.5 669V698M633.5 671V698M641.5 673V698M649.5 674V698M657.5 676V698M665.5 678V698M673.5 679V698M681.5 676V698M689.5 676V698M697.5 672V698M705.5 673V698M713.5 674V698M721.5 674V698M729.5 671V698M737.5 665V698M745.5 661V698M753.5 660V698M761.5 656V698M769.5 653V698M777.5 651V698M785.5 645V698M793.5 638V698M801.5 632V698M809.5 626V698M817.5 621V698M825.5 610V698M833.5 606V698M841.5 599V698M849.5 590V698M857.5 589V698M865.5 590V698M873.5 593V698M881.5 594V698M889.5 592V698M897.5 591V698M905.5 598V698M913.5 604V698M921.5 613V698M929.5 621V698M937.5 624V698M945.5 626V698M953.5 627V698M961.5 628V698M969.5 628V698M977.5 624V698M985.5 629V698M993.5 631V698M1001.5 639V698M1009.5 646V698M1017.5 651V698M1025.5 654V698M1033.5 656V698M1041.5 659V698M1049.5 658V698M1057.5 656V698M1065.5 653V698M1073.5 654V698M1081.5 657V698M1089.5 662V698M1097.5 665V698M1105.5 669V698M1113.5 674V698M1121.5 681V698M1129.5 684V698M1137.5 686V698M1145.5 687V698M1153.5 687V698M1161.5 686V698M1169.5 686V698M1177.5 689V698M1185.5 689V698M1193.5 689V698M1201.5 689V698M1209.5 694V698M1217.5 697V702M1225.5 697V711M1233.5 697V717M1241.5 697V725M1249.5 697V730M1257.5 697V732M1265.5 697V727M1273.5 697V724M1281.5 697V722M1289.5 697V721M1297.5 697V719M1305.5 697V714M1313.5 697V712M1321.5 697V709M1329.5 697V707M1337.5 697V701M1345.5 697V699M1353.5 694V698M1361.5 696V698M1369.5 697V700M1377.5 697V701M1385.5 697V702M1393.5 697V701M1401.5 697V701M1409.5 695V698M1417.5 692V698" stroke="#c0c0c0" stroke-width="1" fill="none" shape-rendering="crispEdges"/>
<g stroke="#ff0000" stroke-width="1" fill="none" shape-rendering="crispEdges"><path transform="translate(0 .5)" d="M0 733h1M1 734h2M6 736h2M8 737h1M12 737h3M18 737h1M19 736h2M24 734h1M25 733h2M30 731h1M31 730h2M36 727h2M38 726h1M42 724h1M43 723h2M48 721h1M49 720h2M54 719h2M56 718h1M60 718h2M62 717h1M66 717h3M72 718h3M78 719h3M84 720h2M86 721h1M90 722h2M92 723h1M96 724h3M102 725h2M104 726h1M108 726h3M114 726h3M120 725h3M126 723h2M128 722h1M132 722h2M134 721h1M138 721h3M144 720h3M150 719h2M152 718h1M156 718h2M158 717h1M162 717h3M168 717h3M174 718h3M180 718h2M182 719h1M186 719h1M187 720h2M192 722h3M198 722h3M204 722h3M210 722h3M216 722h3M222 722h3M228 722h2M230 721h1M234 721h1M235 720h2M240 718h1M241 717h2M246 715h2M248 714h1M252 713h2M254 712h1M258 711h2M260 710h1M264 709h3M270 708h2M272 707h1M276 707h2M278 706h1M282 706h3M288 705h3M294 705h3M300 705h3M306 705h2M308 706h1M312 707h3M318 708h2M320 709h1M324 709h2M326 710h1M330 710h3M336 711h3M342 710h3M348 710h3M354 710h1M355 709h2M360 707h3M366 706h2M368 705h1M372 704h3M378 703h1M379 702h2M384 700h1M385 699h2M390 698h2M392 697h1M396 696h2M398 695h1M402 694h1M403 693h2M408 691h1M409 690h2M414 688h1M415 687h2M420 685h1M421 684h2M426 681h2M428 680h1M432 678h1M433 677h2M438 675h1M439 674h2M444 671h1M445 670h1M446 669h1M450 666h2M452 665h1M456 663h1M457 662h1M458 661h1M462 658h2M464 657h1M468 653h1M473 647h1M474 646h1M475 645h1M479 642h1M480 641h1M481 640h1M485 637h1M486 636h2M491 632h1M492 631h2M497 627h1M498 626h2M503 623h2M505 622h1M509 620h1M510 619h1M511 618h1M515 616h3M521 614h3M527 613h1M528 612h2M533 612h3M539 612h3M545 612h2M547 613h1M551 614h1M552 615h2M557 616h1M558 617h2M563 619h1M564 620h2M569 623h2M571 624h1M575 626h2M577 627h1M581 630h1M582 631h2M587 634h2M589 635h1M593 637h1M594 638h2M599 641h2M601 642h1M605 644h1M606 645h1M607 646h1M611 648h2M613 649h1M617 651h2M619 652h1M623 654h2M625 655h1M629 657h2M631 658h1M635 660h3M641 662h3M647 663h1M648 664h2M653 665h3M659 667h3M665 669h3M671 670h1M672 671h2M677 671h1M678 672h2M683 672h1M684 673h2M689 674h3M695 674h3M701 674h3M707 674h3M713 674h3M719 674h3M725 674h1M726 673h2M731 673h3M737 672h3M743 671h1M744 670h2M749 669h3M755 668h1M756 667h2M761 666h3M767 665h1M768 664h2M773 663h3M779 661h2M781 660h1M785 658h2M787 657h1M791 655h2M793 654h1M797 652h2M799 651h1M803 649h2M805 648h1M809 646h1M810 645h2M815 642h2M817 641h1M821 639h1M822 638h1M823 637h1M827 635h1M828 634h1M829 633h1M833 630h1M834 629h2M839 626h1M840 625h1M841 624h1M845 621h1M846 620h1M847 619h1M851 615h1M852 614h2M857 610h2M859 609h1M863 607h2M865 606h1M869 604h2M871 603h1M875 601h2M877 600h1M881 598h2M883 597h1M887 595h2M889 594h1M893 593h3M899 592h3M905 592h3M911 592h3M917 593h1M918 594h2M923 595h1M924 596h2M929 597h1M930 598h2M935 601h2M937 602h1M941 603h1M942 604h2M947 606h2M949 607h1M953 609h1M954 610h2M959 613h2M961 614h1M965 616h2M967 617h1M971 618h1M972 619h2M977 620h2M979 621h1M983 623h2M985 624h1M989 625h3M995 626h3M1001 627h3M1007 628h1M1008 629h2M1013 631h2M1015 632h1M1019 633h1M1020 634h2M1025 635h2M1027 636h1M1031 638h2M1033 639h1M1037 640h1M1038 641h2M1043 643h3M1049 645h2M1051 646h1M1055 648h2M1057 649h1M1061 650h3M1067 651h3M1073 652h3M1079 653h1M1080 654h2M1085 654h1M1086 655h2M1091 655h1M1092 656h2M1097 657h3M1103 658h3M1109 658h1M1110 659h2M1115 660h3M1121 662h2M1123 663h1M1127 664h1M1128 665h2M1133 667h2M1135 668h1M1139 670h2M1141 671h1M1145 673h2M1147 674h1M1151 676h2M1153 677h1M1157 678h3M1163 679h1M1164 680h2M1169 681h2M1171 682h1M1175 683h1M1176 684h2M1181 684h1M1182 685h2M1187 685h3M1193 686h3M1199 686h3M1205 686h1M1206 687h2M1211 687h1M1212 688h2M1217 689h2M1219 690h1M1223 691h1M1224 692h2M1229 693h1M1230 694h2M1235 696h1M1236 697h2M1241 700h2M1243 701h1M1247 703h2M1249 704h1M1253 706h1M1254 707h1M1255 708h1M1259 710h2M1261 711h1M1265 713h2M1267 714h1M1271 716h2M1273 717h1M1277 718h1M1278 719h2M1283 720h1M1284 721h2M1289 722h3M1295 721h1M1296 720h2M1301 720h1M1302 719h2M1307 719h1M1308 718h2M1313 717h3M1319 716h1M1320 715h2M1325 715h1M1326 714h2M1331 713h3M1337 711h3M1343 710h1M1344 709h2M1349 708h3M1355 707h1M1356 706h2M1361 705h2M1363 704h1M1367 703h1M1368 702h2M1373 701h3M1379 700h3M1385 700h3M1391 699h3M1397 699h3M1403 699h3M1409 699h3M1415 698h3"/><path transform="translate(.5 0)" d="M469 651v2"/></g>
<path d="M1257 732.6L1419.3 697.2" stroke="#ff0000" stroke-width="4.0" stroke-linecap="round"/>
<path d="M1421.8 696.6L1411.6 703.7L1409.5 694.4z" fill="#ff0000"/>
</g>
<g clip-path="url(#cr)">
<path d="M0 787.5H1683" stroke="#c0c0c0" stroke-width="1" stroke-dasharray="3 3" shape-rendering="crispEdges"/>
<path d="M0 838.5H1683" stroke="#c0c0c0" stroke-width="1" stroke-dasharray="3 3" shape-rendering="crispEdges"/>
<path d="M0 899.5H1683" stroke="#c0c0c0" stroke-width="1" stroke-dasharray="3 3" shape-rendering="crispEdges"/>
<g stroke="#1e90ff" stroke-width="1" fill="none" shape-rendering="crispEdges"><path transform="translate(0 .5)" d="M1 827h3M4 826h4M8 825h2M11 828h1M12 829h1M14 832h1M15 833h1M17 836h9M26 837h2M28 838h1M29 839h1M30 840h2M32 841h1M33 842h1M34 843h1M36 846h1M37 847h1M38 848h1M40 851h1M41 852h3M44 853h4M48 854h6M54 855h12M67 852h1M68 851h1M70 848h1M71 847h1M73 844h2M75 845h3M78 846h2M80 847h2M82 846h1M83 845h1M84 844h2M86 843h1M87 842h1M88 841h1M89 840h5M94 839h6M100 840h4M104 841h2M106 840h1M107 839h1M108 838h1M109 837h1M110 836h1M111 835h1M112 834h1M113 833h1M114 834h1M116 837h1M117 838h1M118 839h1M120 842h1M121 843h2M123 844h2M125 845h2M127 846h2M129 847h5M134 846h8M142 847h16M158 848h4M162 849h2M164 850h2M166 851h1M167 852h2M169 853h1M170 854h2M172 855h2M174 856h1M175 857h2M177 858h2M179 857h2M181 856h2M183 855h2M185 854h1M186 853h2M188 852h2M190 851h1M191 850h2M193 849h11M204 848h4M208 847h2M210 846h1M211 845h1M212 844h1M213 843h1M214 842h1M215 841h1M216 840h1M217 839h1M219 836h1M221 833h1M223 830h1M225 827h2M227 826h2M229 825h2M231 824h2M233 823h2M235 824h3M238 825h2M240 826h2M243 829h1M244 830h1M246 833h1M247 834h1M249 837h1M250 838h1M252 841h1M253 842h1M254 843h1M256 846h1M257 847h1M258 848h2M260 849h1M261 850h1M262 851h2M264 852h1M265 853h1M266 852h1M267 851h1M268 850h2M270 849h1M271 848h1M272 847h1M273 846h5M278 845h8M286 846h5M291 847h2M293 848h2M295 849h2M297 850h1M298 849h1M299 848h1M300 847h2M302 846h1M303 845h1M304 844h1M305 843h2M307 844h2M309 845h2M311 846h2M313 847h2M315 848h3M318 849h2M320 850h4M324 849h4M328 848h6M334 847h4M337 846h1M346 827h4M350 826h4M354 825h1M355 824h1M356 823h1M358 820h1M359 819h1M360 818h1M361 817h1M362 818h2M364 819h1M365 820h1M366 821h2M368 822h1M369 823h1M371 826h1M373 829h1M375 832h1M377 835h3M380 834h4M384 833h6M390 834h4M397 827h1M401 820h2M403 819h2M405 818h2M407 817h2M409 816h1M410 815h1M411 814h1M412 813h1M414 810h1M415 809h1M416 808h1M417 807h3M420 806h4M424 805h6M430 804h8M438 803h4M442 802h2M444 801h1M445 800h1M446 799h2M448 798h1M449 797h1M450 796h2M452 795h2M454 794h1M455 793h2M457 792h1M458 791h1M459 790h1M460 789h2M462 788h1M463 787h1M464 786h1M465 785h1M466 786h1M468 789h1M469 790h1M470 791h1M472 794h1M473 795h5M478 794h5M483 795h3M486 796h2M488 797h3M491 796h3M494 795h2M496 794h3M499 793h3M502 792h2M504 791h2M505 792h1M515 813h1M517 816h1M519 819h1M521 822h2M523 821h3M526 820h2M528 819h2M530 818h1M531 817h1M532 816h1M534 813h1M535 812h1M536 811h1M537 810h1M539 813h1M541 816h1M543 819h1M545 822h1M546 823h2M548 824h2M550 825h1M551 826h2M553 827h1M554 828h2M556 829h1M557 830h1M558 831h2M560 832h1M561 833h2M563 834h3M566 835h2M568 836h6M574 837h4M585 822h2M587 821h3M590 820h2M592 819h2M595 822h1M596 823h1M598 826h1M599 827h1M601 830h1M602 831h2M604 832h2M606 833h1M607 834h2M609 835h5M614 834h13M627 833h3M630 832h2M632 831h4M636 832h4M640 833h3M643 832h3M646 831h2M648 830h3M651 831h3M654 832h2M656 833h6M662 832h8M670 831h4M675 828h1M677 825h1M679 822h1M681 819h1M682 820h1M683 821h1M684 822h1M686 825h1M687 826h1M688 827h1M689 828h1M690 827h1M692 824h1M693 823h1M694 822h1M696 819h1M697 818h1M699 821h1M700 822h1M702 825h1M703 826h1M705 829h3M708 828h4M712 827h6M718 826h4M722 825h2M724 824h1M725 823h1M726 822h2M728 821h1M729 820h1M730 819h1M731 818h1M732 817h1M734 814h1M735 813h1M736 812h1M737 811h5M742 810h4M746 811h1M747 812h1M748 813h2M750 814h1M751 815h1M752 816h1M753 817h1M754 816h1M755 815h1M756 814h2M758 813h1M759 812h1M760 811h1M761 810h11M772 809h4M776 808h2M778 807h1M779 806h1M780 805h1M782 802h1M783 801h1M784 800h1M785 799h2M787 798h2M789 797h2M791 796h2M793 795h2M795 794h3M798 793h2M800 792h3M803 791h3M806 790h2M808 789h4M812 788h4M816 787h2M818 786h1M819 785h1M820 784h2M822 783h1M823 782h1M824 781h1M825 780h1M828 785h1M830 788h1M833 793h2M835 792h2M837 791h2M839 790h2M841 789h1M842 788h2M844 787h2M846 786h1M847 785h2M858 801h2M860 802h4M864 803h3M867 804h2M869 805h2M871 806h2M873 807h1M874 806h2M876 805h2M878 804h1M879 803h2M881 802h2M883 801h2M885 800h2M887 799h2M889 798h5M894 797h4M897 798h1M906 816h8M914 817h1M915 818h1M916 819h1M917 820h1M918 821h1M919 822h1M920 823h1M921 824h5M926 825h4M930 824h1M931 823h1M932 822h1M933 821h1M934 820h1M935 819h1M936 818h1M937 817h3M940 816h4M944 815h3M947 814h3M950 813h2M952 812h4M956 811h4M960 810h4M964 809h4M968 808h2M970 807h1M971 806h1M972 805h1M973 804h1M974 803h1M975 802h1M976 801h1M986 822h1M987 821h3M990 820h2M992 819h2M997 826h1M1001 833h3M1004 832h4M1008 831h6M1014 832h4M1018 831h2M1020 830h1M1021 829h1M1022 828h2M1024 827h1M1025 826h5M1030 825h5M1035 826h2M1037 827h2M1039 828h2M1041 829h1M1042 828h1M1044 825h1M1045 824h1M1046 823h1M1048 820h1M1049 819h2M1051 818h3M1054 817h2M1056 816h3M1059 815h3M1062 814h2M1064 813h3M1067 814h3M1070 815h2M1072 816h2M1073 817h1M1081 832h5M1086 833h6M1092 832h4M1096 831h3M1099 832h2M1101 833h2M1103 834h2M1105 835h2M1107 836h3M1110 837h2M1112 838h2M1114 839h1M1116 842h1M1117 843h1M1118 844h1M1120 847h1M1121 848h1M1122 847h1M1123 846h1M1124 845h1M1125 844h1M1126 843h1M1127 842h1M1128 841h1M1129 840h2M1131 839h2M1133 838h2M1135 837h2M1137 836h5M1142 835h6M1148 834h4M1152 833h2M1154 832h2M1156 831h2M1158 830h1M1159 829h2M1161 828h1M1162 829h2M1164 830h1M1165 831h1M1166 832h2M1168 833h1M1169 834h1M1170 835h1M1171 836h1M1172 837h1M1173 838h1M1174 839h1M1175 840h1M1176 841h1M1177 842h1M1178 841h1M1179 840h1M1180 839h1M1182 836h1M1183 835h1M1184 834h1M1185 833h5M1190 832h6M1196 833h4M1200 834h2M1201 835h1M1210 852h1M1211 853h1M1212 854h1M1214 857h1M1215 858h1M1216 859h1M1217 860h1M1218 861h1M1219 862h1M1220 863h2M1222 864h1M1223 865h1M1224 866h1M1225 867h2M1227 866h2M1229 865h2M1231 864h2M1233 863h1M1234 864h2M1236 865h2M1238 866h1M1239 867h2M1241 868h2M1243 867h3M1246 866h2M1248 865h2M1250 864h1M1252 861h1M1253 860h1M1254 859h1M1256 856h1M1257 855h1M1260 850h1M1262 847h1M1265 842h2M1267 843h3M1270 844h2M1272 845h3M1275 844h2M1277 843h2M1279 842h2M1281 841h1M1282 842h2M1284 843h1M1285 844h1M1286 845h2M1288 846h1M1289 847h5M1294 846h4M1301 839h1M1305 832h1M1306 833h1M1308 836h1M1309 837h1M1310 838h1M1312 841h1M1313 842h2M1315 841h2M1317 840h2M1319 839h2M1321 838h3M1324 837h4M1328 836h2M1330 835h1M1331 834h1M1332 833h1M1333 832h1M1334 831h1M1335 830h1M1336 829h1M1337 828h13M1350 829h4M1357 836h1M1361 843h9M1370 844h2M1372 845h1M1373 846h1M1374 847h2M1376 848h1M1377 849h3M1380 848h4M1384 847h10M1395 844h1M1396 843h1M1398 840h1M1399 839h1M1401 836h1M1403 833h1M1405 830h1M1407 827h1M1409 824h2M1411 823h2M1413 822h2M1415 821h2M1417 820h1"/><path transform="translate(.5 0)" d="M10 826v2M13 830v2M16 834v2M35 844v2M39 849v2M66 853v2M69 849v2M72 845v2M115 835v2M119 840v2M218 837v2M220 834v2M222 831v2M224 828v2M242 827v2M245 831v2M248 835v2M251 839v2M255 844v2M338 844v2M339 841v3M340 839v2M341 836v3M342 834v2M343 831v3M344 829v2M345 827v2M357 821v2M370 824v2M372 827v2M374 830v2M376 833v2M394 832v2M395 830v2M396 828v2M398 825v2M399 823v2M400 821v2M413 811v2M467 787v2M471 792v2M506 793v2M507 795v2M508 797v3M509 800v2M510 802v3M511 805v2M512 807v2M513 809v2M514 811v2M516 814v2M518 817v2M520 820v2M533 814v2M538 811v2M540 814v2M542 817v2M544 820v2M578 835v2M579 833v2M580 831v2M581 829v2M582 827v2M583 825v2M584 823v2M594 820v2M597 824v2M600 828v2M674 829v2M676 826v2M678 823v2M680 820v2M685 823v2M691 825v2M695 820v2M698 819v2M701 823v2M704 827v2M733 815v2M781 803v2M826 781v2M827 783v2M829 786v2M831 789v2M832 791v2M849 784v2M850 786v2M851 788v2M852 790v2M853 792v2M854 794v2M855 796v2M856 798v2M857 800v2M898 799v2M899 801v2M900 803v3M901 806v2M902 808v3M903 811v2M904 813v2M905 815v2M977 800v2M978 802v3M979 805v2M980 807v3M981 810v3M982 813v3M983 816v2M984 818v3M985 821v2M994 820v2M995 822v2M996 824v2M998 827v2M999 829v2M1000 831v2M1043 826v2M1047 821v2M1074 818v2M1075 820v2M1076 822v2M1077 824v2M1078 826v2M1079 828v2M1080 830v2M1115 840v2M1119 845v2M1181 837v2M1202 836v2M1203 838v2M1204 840v2M1205 842v2M1206 844v2M1207 846v2M1208 848v2M1209 850v2M1213 855v2M1251 862v2M1255 857v2M1258 853v2M1259 851v2M1261 848v2M1263 845v2M1264 843v2M1298 844v2M1299 842v2M1300 840v2M1302 837v2M1303 835v2M1304 833v2M1307 834v2M1311 839v2M1354 830v2M1355 832v2M1356 834v2M1358 837v2M1359 839v2M1360 841v2M1394 845v2M1397 841v2M1400 837v2M1402 834v2M1404 831v2M1406 828v2M1408 825v2"/></g>
<path d="M1228.7 874.6L1342.4 828.4" stroke="#ff0000" stroke-width="4.0" stroke-linecap="round"/>
<path d="M1344.8 827.4L1336 836.2L1332.3 827.3z" fill="#ff0000"/>
<path d="M1351.1 826.9L1382.3 853.2" stroke="#ff0000" stroke-width="4.0" stroke-linecap="round"/>
<path d="M1384.3 854.9L1373.2 851.8L1379.4 844.5z" fill="#ff0000"/>
<path d="M1384.3 854.9L1432.9 817.9" stroke="#ff0000" stroke-width="4.0" stroke-linecap="round"/>
<path d="M1435 816.3L1428.8 827.1L1422.9 819.4z" fill="#ff0000"/>
</g>
<g shape-rendering="crispEdges" fill="#000">
<rect x="0" y="24" width="1684" height="1"/>
<rect x="1683" y="24" width="1" height="902"/>
<rect x="0" y="577" width="1684" height="1"/>
<rect x="0" y="579" width="1684" height="1"/>
<rect x="0" y="749" width="1684" height="1"/>
<rect x="0" y="751" width="1684" height="1"/>
<rect x="0" y="925" width="1684" height="1"/>
<rect x="1683" y="578" width="1" height="1" fill="#fff"/><rect x="1683" y="750" width="1" height="1" fill="#fff"/>
<rect x="1684" y="46" width="2" height="1"/>
<rect x="1684" y="79" width="2" height="1"/>
<rect x="1684" y="112" width="2" height="1"/>
<rect x="1684" y="145" width="2" height="1"/>
<rect x="1684" y="178" width="2" height="1"/>
<rect x="1684" y="211" width="2" height="1"/>
<rect x="1684" y="244" width="2" height="1"/>
<rect x="1684" y="277" width="2" height="1"/>
<rect x="1684" y="310" width="2" height="1"/>
<rect x="1684" y="343" width="2" height="1"/>
<rect x="1684" y="376" width="2" height="1"/>
<rect x="1684" y="409" width="2" height="1"/>
<rect x="1684" y="442" width="2" height="1"/>
<rect x="1684" y="475" width="2" height="1"/>
<rect x="1684" y="508" width="2" height="1"/>
<rect x="1684" y="541" width="2" height="1"/>
<rect x="1684" y="574" width="2" height="1"/>
<rect x="1684" y="581" width="2" height="1"/>
<rect x="1684" y="697" width="2" height="1"/>
<rect x="1684" y="748" width="2" height="1"/>
<rect x="1684" y="753" width="2" height="1"/>
<rect x="1684" y="925" width="2" height="1"/>
<rect x="57" y="926" width="1" height="3"/>
<rect x="121" y="926" width="1" height="3"/>
<rect x="185" y="926" width="1" height="3"/>
<rect x="249" y="926" width="1" height="3"/>
<rect x="313" y="926" width="1" height="3"/>
<rect x="377" y="926" width="1" height="3"/>
<rect x="441" y="926" width="1" height="3"/>
<rect x="505" y="926" width="1" height="3"/>
<rect x="569" y="926" width="1" height="3"/>
<rect x="633" y="926" width="1" height="3"/>
<rect x="697" y="926" width="1" height="3"/>
<rect x="761" y="926" width="1" height="3"/>
<rect x="825" y="926" width="1" height="3"/>
<rect x="889" y="926" width="1" height="3"/>
<rect x="953" y="926" width="1" height="3"/>
<rect x="1017" y="926" width="1" height="3"/>
<rect x="1081" y="926" width="1" height="3"/>
<rect x="1145" y="926" width="1" height="3"/>
<rect x="1209" y="926" width="1" height="3"/>
<rect x="1273" y="926" width="1" height="3"/>
<rect x="1337" y="926" width="1" height="3"/>
<rect x="1401" y="926" width="1" height="3"/>
</g>
<g font-family="Liberation Sans, sans-serif" font-size="9.33" fill="#000">
<text x="1689.2" y="49.6" textLength="33.2" lengthAdjust="spacingAndGlyphs">1.20240</text>
<text x="1689.2" y="82.6" textLength="33.2" lengthAdjust="spacingAndGlyphs">1.19400</text>
<text x="1689.2" y="115.6" textLength="33.2" lengthAdjust="spacingAndGlyphs">1.18560</text>
<text x="1689.2" y="148.6" textLength="33.2" lengthAdjust="spacingAndGlyphs">1.17760</text>
<text x="1689.2" y="181.6" textLength="33.2" lengthAdjust="spacingAndGlyphs">1.16920</text>
<text x="1689.2" y="214.6" textLength="33.2" lengthAdjust="spacingAndGlyphs">1.16100</text>
<text x="1689.2" y="247.6" textLength="33.2" lengthAdjust="spacingAndGlyphs">1.15280</text>
<text x="1689.2" y="280.6" textLength="33.2" lengthAdjust="spacingAndGlyphs">1.14440</text>
<text x="1689.2" y="313.6" textLength="33.2" lengthAdjust="spacingAndGlyphs">1.13620</text>
<text x="1689.2" y="346.6" textLength="33.2" lengthAdjust="spacingAndGlyphs">1.12780</text>
<text x="1689.2" y="379.6" textLength="33.2" lengthAdjust="spacingAndGlyphs">1.11960</text>
<text x="1689.2" y="412.6" textLength="33.2" lengthAdjust="spacingAndGlyphs">1.11140</text>
<text x="1689.2" y="445.6" textLength="33.2" lengthAdjust="spacingAndGlyphs">1.10300</text>
<text x="1689.2" y="478.6" textLength="33.2" lengthAdjust="spacingAndGlyphs">1.09480</text>
<text x="1689.2" y="511.6" textLength="33.2" lengthAdjust="spacingAndGlyphs">1.08660</text>
<text x="1689.2" y="544.6" textLength="33.2" lengthAdjust="spacingAndGlyphs">1.07820</text>
<text x="1689.2" y="577.6" textLength="33.2" lengthAdjust="spacingAndGlyphs">1.07000</text>
<text x="1687" y="588.5" textLength="40.5" lengthAdjust="spacingAndGlyphs">0.014776</text>
<text x="1687" y="700.6" textLength="17.5" lengthAdjust="spacingAndGlyphs">0.00</text>
<text x="1687" y="745.7" textLength="40.5" lengthAdjust="spacingAndGlyphs">-0.006575</text>
<text x="1687" y="761.6" textLength="14" lengthAdjust="spacingAndGlyphs">100</text>
<text x="1686.2" y="790.6">80</text>
<text x="1686.2" y="841.6">50</text>
<text x="1686.2" y="902.6">15</text>
<text x="1686.8" y="921.6">0</text>
<text x="-8.4" y="937.7">26 Mar 2020</text>
<text x="55.6" y="937.7">5 Apr 2020</text>
<text x="119.6" y="937.7">15 Apr 2020</text>
<text x="183.6" y="937.7">24 Apr 2020</text>
<text x="247.6" y="937.7">4 May 2020</text>
<text x="311.6" y="937.7">13 May 2020</text>
<text x="375.6" y="937.7">22 May 2020</text>
<text x="439.6" y="937.7">1 Jun 2020</text>
<text x="503.6" y="937.7">10 Jun 2020</text>
<text x="567.6" y="937.7">19 Jun 2020</text>
<text x="631.6" y="937.7">29 Jun 2020</text>
<text x="695.6" y="937.7">8 Jul 2020</text>
<text x="759.6" y="937.7">17 Jul 2020</text>
<text x="823.6" y="937.7">27 Jul 2020</text>
<text x="887.6" y="937.7">5 Aug 2020</text>
<text x="951.6" y="937.7">14 Aug 2020</text>
<text x="1015.6" y="937.7">24 Aug 2020</text>
<text x="1079.6" y="937.7">2 Sep 2020</text>
<text x="1143.6" y="937.7">11 Sep 2020</text>
<text x="1207.6" y="937.7">21 Sep 2020</text>
<text x="1271.6" y="937.7">30 Sep 2020</text>
<text x="1335.6" y="937.7">9 Oct 2020</text>
<text x="1399.6" y="937.7">19 Oct 2020</text>
<text x="8.3" y="35.8" textLength="214" lengthAdjust="spacingAndGlyphs" xml:space="preserve">EURUSD-,Daily  1.18276 1.18799 1.18274 1.18538</text>
<text x="-2.5" y="591.8" textLength="150.5" lengthAdjust="spacingAndGlyphs">MACD(12,26,9) 0.000762 -0.000154</text>
<text x="-2" y="763.6" textLength="67" lengthAdjust="spacingAndGlyphs">RSI(14) 60.5850</text>
</g>
<path d="M0 32.5L3 35.5H0z" fill="#000"/>
<rect x="1685" y="55" width="41" height="11" fill="#ff0000" shape-rendering="crispEdges"/>
<text x="1689.2" y="63.8" font-family="Liberation Sans, sans-serif" font-size="9.33" fill="#fff" textLength="33.2" lengthAdjust="spacingAndGlyphs">1.19849</text>
<rect x="1678.5" y="59.5" width="4" height="4" fill="#fff" stroke="#ff0000" stroke-width="1" shape-rendering="crispEdges"/>
<rect x="1685" y="83" width="41" height="11" fill="#ff0000" shape-rendering="crispEdges"/>
<text x="1689.2" y="91.8" font-family="Liberation Sans, sans-serif" font-size="9.33" fill="#fff" textLength="33.2" lengthAdjust="spacingAndGlyphs">1.19149</text>
<rect x="1678.5" y="87.5" width="4" height="4" fill="#fff" stroke="#ff0000" stroke-width="1" shape-rendering="crispEdges"/>
<rect x="1685" y="109" width="41" height="11" fill="#000000" shape-rendering="crispEdges"/>
<text x="1689.2" y="117.8" font-family="Liberation Sans, sans-serif" font-size="9.33" fill="#fff" textLength="33.2" lengthAdjust="spacingAndGlyphs">1.18538</text>
<rect x="1685" y="129" width="41" height="11" fill="#ffa500" shape-rendering="crispEdges"/>
<text x="1689.2" y="137.8" font-family="Liberation Sans, sans-serif" font-size="9.33" fill="#fff" textLength="33.2" lengthAdjust="spacingAndGlyphs">1.17998</text>
<rect x="1678.5" y="133.5" width="4" height="4" fill="#fff" stroke="#ffa500" stroke-width="1" shape-rendering="crispEdges"/>
<rect x="1685" y="149" width="41" height="11" fill="#0000ff" shape-rendering="crispEdges"/>
<text x="1689.2" y="157.8" font-family="Liberation Sans, sans-serif" font-size="9.33" fill="#fff" textLength="33.2" lengthAdjust="spacingAndGlyphs">1.17498</text>
<rect x="1678.5" y="153.5" width="4" height="4" fill="#fff" stroke="#0000ff" stroke-width="1" shape-rendering="crispEdges"/>
<rect x="1685" y="180" width="41" height="11" fill="#0000ff" shape-rendering="crispEdges"/>
<text x="1689.2" y="188.8" font-family="Liberation Sans, sans-serif" font-size="9.33" fill="#fff" textLength="33.2" lengthAdjust="spacingAndGlyphs">1.16722</text>
<rect x="1678.5" y="184.5" width="4" height="4" fill="#fff" stroke="#0000ff" stroke-width="1" shape-rendering="crispEdges"/>
<path d="M1423 25H1434.5L1428.7 30.5z" fill="#c0c0c0"/>
<rect x="1729" y="21" width="1" height="922" fill="#e8e8e8"/>
<rect x="0" y="0" width="1730" height="20" fill="#f0f0f0"/>
<rect x="0" y="19" width="1730" height="1" fill="#f8f8f8"/>
<rect x="0" y="20" width="1730" height="1" fill="#a4a4a4"/>
<rect x="0" y="21" width="1730" height="1" fill="#696969"/>
<rect x="0" y="22" width="1730" height="2" fill="#ffffff"/>
<rect x="319" y="0" width="24" height="18" fill="#f8f8f8"/>
<rect x="471" y="0" width="24" height="18" fill="#f8f8f8"/>
<rect x="499" y="0" width="24" height="18" fill="#f8f8f8"/>
<rect x="659" y="0" width="24" height="18" fill="#f8f8f8"/>
<rect x="1133" y="0" width="24" height="18" fill="#f8f8f8"/>
<rect x="44" y="0" width="1" height="18" fill="#a0a0a0"/>
<rect x="281" y="0" width="1" height="18" fill="#a0a0a0"/>
<rect x="318" y="0" width="1" height="18" fill="#a0a0a0"/>
<rect x="375" y="0" width="1" height="18" fill="#a0a0a0"/>
<rect x="465" y="0" width="1" height="18" fill="#a0a0a0"/>
<rect x="470" y="0" width="1" height="18" fill="#a0a0a0"/>
<rect x="498" y="0" width="1" height="18" fill="#a0a0a0"/>
<rect x="527" y="0" width="1" height="18" fill="#a0a0a0"/>
<rect x="715" y="0" width="1" height="18" fill="#a0a0a0"/>
<rect x="954" y="0" width="1" height="18" fill="#a0a0a0"/>
<rect x="1132" y="0" width="1" height="18" fill="#a0a0a0"/>
<rect x="1215" y="0" width="1" height="18" fill="#a0a0a0"/>
<rect x="648" y="0" width="1" height="20" fill="#a0a0a0"/>
<rect x="658" y="0" width="1" height="20" fill="#a0a0a0"/>
<path d="M284 0.5h3M284 2.5h3M284 4.5h3M284 6.5h3M284 8.5h3M284 10.5h3M284 12.5h3M284 14.5h3M284 16.5h3" stroke="#b4b4b4" stroke-width="1"/>
<path d="M652 0.5h3M652 2.5h3M652 4.5h3M652 6.5h3M652 8.5h3M652 10.5h3M652 12.5h3M652 14.5h3M652 16.5h3" stroke="#b4b4b4" stroke-width="1"/>
<path d="M958 0.5h3M958 2.5h3M958 4.5h3M958 6.5h3M958 8.5h3M958 10.5h3M958 12.5h3M958 14.5h3M958 16.5h3" stroke="#b4b4b4" stroke-width="1"/>
<rect x="-2" y="2" width="8" height="12.5" fill="#fff" stroke="#4a78c8" stroke-width="1"/><path d="M0 5.5h5M0 7.5h5M0 9.5h5M0 11.5h5" stroke="#ccdcf8" stroke-width="0.8"/>
<rect x="19.5" y="1" width="11.5" height="12" fill="#fdfdfd" stroke="#b0a898" stroke-width="0.8"/><path d="M23 3v8M27 3v8M22 5h2M26 4h2" stroke="#707880" stroke-width="0.9"/>
<circle cx="27.5" cy="8.5" r="4.6" fill="#c7dcf2" fill-opacity="0.85" stroke="#7aa6dc" stroke-width="1.2"/><path d="M31 12.2L36 16.8" stroke="#c89a20" stroke-width="2.2" stroke-linecap="round"/>
<path d="M54.5 1.2h7l4 3.8v8.2h-11z" fill="#fafafa" stroke="#7c7c7c" stroke-width="1"/><path d="M61.5 1.2v3.8h4" fill="#e4e4e4" stroke="#7c7c7c" stroke-width="0.8"/><path d="M56.5 3.5h3M56.5 6.5h5M56.5 9h5" stroke="#8a8a8a" stroke-width="1"/>
<path d="M62.1 7.2h3.6v3.4h3.6v3.6h-3.6v3.4h-3.6v-3.4h-3.6v-3.6h3.6z" fill="url(#gplus)" stroke="#0c8c0c" stroke-width="0.8"/>
<text x="73" y="11.3" font-family="'Liberation Sans', 'Noto Sans CJK SC', sans-serif" font-size="12" fill="#000" stroke="#000" stroke-width="0.3" letter-spacing="0.1">新订单</text>
<path d="M121 9.5L127.5 1.2L137 7.5L130 15.8Z" fill="url(#ggold)" stroke="#a87010" stroke-width="0.8"/><path d="M121 9.5L130 15.8L130.5 14.2L122 8.3z" fill="#f6ecc8" stroke="#a87010" stroke-width="0.5"/>
<path d="M152 0h9l1.5 1.5v7h-10.5z" fill="#3f8ee8" stroke="#2a6cc4" stroke-width="0.7"/><path d="M154 3.5h6M154 5.5h4" stroke="#dcecff" stroke-width="1"/>
<path d="M152 15.5a3 3 0 0 1 0.3-5.9a4 4 0 0 1 7.3-0.8a3.2 3.2 0 0 1 4.9 3.2a2 2 0 0 1-0.7 3.5z" fill="#f2f6fc" stroke="#6c8cc0" stroke-width="0.9"/>
<circle cx="185" cy="8.5" r="7.2" fill="none" stroke="#a8b8d4" stroke-width="1.2"/><circle cx="185" cy="8.5" r="4.9" fill="none" stroke="#7c98d4" stroke-width="1.3"/><circle cx="185" cy="8.5" r="2.7" fill="none" stroke="#6888d0" stroke-width="1.1"/>
<path d="M185 8.5L185 16A7.4 7.4 0 0 0 192.3 9.2z" fill="#6cc080" fill-opacity="0.85"/><path d="M185.3 8.5V16" stroke="#18a030" stroke-width="1.3"/><circle cx="185" cy="8" r="1.5" fill="#2c5cd8"/>
<path d="M205.5 7L217.5 7L211.5 15.5Z" fill="#f8d850" stroke="#c8a020" stroke-width="0.8"/>
<ellipse cx="212" cy="4.8" rx="8" ry="2.6" fill="#62a8e6" stroke="#3a80c8" stroke-width="0.7"/><path d="M208.5 4.5a3.6 4.2 0 0 1 7 0z" fill="#7cbcf0" stroke="#3a80c8" stroke-width="0.6"/>
<circle cx="216.3" cy="12.2" r="3.9" fill="#e02010" stroke="#b01008" stroke-width="0.6"/><rect x="214.8" y="10.7" width="3" height="3" fill="#fff"/>
<text x="225.3" y="11.3" font-family="'Liberation Sans', 'Noto Sans CJK SC', sans-serif" font-size="12.3" fill="#000" stroke="#000" stroke-width="0.3" letter-spacing="-0.5">自动交易</text>
<path d="M298.5 3V16M296 13.5H309" stroke="#505050" stroke-width="1.2" fill="none"/><path d="M298.5 1.5l-1.8 2.5h3.6zM310.5 13.5l-2.5 -1.8v3.6z" fill="#505050"/>
<path d="M305.5 3.5V11M305.5 4H307.5M302.5 10.5H305.5" stroke="#109010" stroke-width="1.3" fill="none"/>
<path d="M326.5 3V16M324 13.5H337" stroke="#505050" stroke-width="1.2" fill="none"/><path d="M326.5 1.5l-1.8 2.5h3.6zM338.5 13.5l-2.5 -1.8v3.6z" fill="#505050"/>
<path d="M332.5 0V12" stroke="#109010" stroke-width="1.2"/><rect x="330.5" y="2.7" width="4" height="6.6" fill="#50e050" stroke="#109010" stroke-width="0.9"/>
<path d="M354.5 3V16M352 13.5H365" stroke="#505050" stroke-width="1.2" fill="none"/><path d="M354.5 1.5l-1.8 2.5h3.6zM366.5 13.5l-2.5 -1.8v3.6z" fill="#505050"/>
<path d="M353 10.5Q357 4.5 359 5Q361 5.5 364.5 9" stroke="#109010" stroke-width="1.2" fill="none"/>
<path d="M394 9.8L399.5 15" stroke="#d4a828" stroke-width="2.4" stroke-linecap="round"/>
<circle cx="390" cy="5.7" r="5.2" fill="url(#glens)" stroke="#4a8ad4" stroke-width="1.3"/>
<path d="M387 5.7h6" stroke="#3a78c0" stroke-width="1.6"/>
<path d="M390 2.7v6" stroke="#3a78c0" stroke-width="1.6"/>
<path d="M422 9.8L427.5 15" stroke="#d4a828" stroke-width="2.4" stroke-linecap="round"/>
<circle cx="418" cy="5.7" r="5.2" fill="url(#glens)" stroke="#4a8ad4" stroke-width="1.3"/>
<path d="M415 5.7h6" stroke="#3a78c0" stroke-width="1.6"/>
<rect x="440" y="0" width="7.8" height="7.6" rx="0.8" fill="#4caa1c" stroke="#2e8a10" stroke-width="0.5"/><rect x="441.6" y="3" width="4.8" height="3" fill="#fff" fill-opacity="0.92"/><path d="M442.2 4.5h3.6" stroke="#4caa1c" stroke-width="0.7"/>
<rect x="448.3" y="0" width="7.8" height="7.6" rx="0.8" fill="#2c60e0" stroke="#1c44b8" stroke-width="0.5"/><rect x="449.90000000000003" y="3" width="4.8" height="3" fill="#fff" fill-opacity="0.92"/><path d="M450.5 4.5h3.6" stroke="#2c60e0" stroke-width="0.7"/>
<rect x="440" y="8.2" width="7.8" height="7.6" rx="0.8" fill="#2c60e0" stroke="#1c44b8" stroke-width="0.5"/><rect x="441.6" y="11.2" width="4.8" height="3" fill="#fff" fill-opacity="0.92"/><path d="M442.2 12.7h3.6" stroke="#2c60e0" stroke-width="0.7"/>
<rect x="448.3" y="8.2" width="7.8" height="7.6" rx="0.8" fill="#4caa1c" stroke="#2e8a10" stroke-width="0.5"/><rect x="449.90000000000003" y="11.2" width="4.8" height="3" fill="#fff" fill-opacity="0.92"/><path d="M450.5 12.7h3.6" stroke="#4caa1c" stroke-width="0.7"/>
<path d="M478.5 3V16M476 13.5H489" stroke="#505050" stroke-width="1.2" fill="none"/><path d="M478.5 1.5l-1.8 2.5h3.6zM490.5 13.5l-2.5 -1.8v3.6z" fill="#505050"/>
<path d="M483.3 4.3L487 7.7L483.3 11z" fill="#a0e8a0" stroke="#109010" stroke-width="1"/>
<path d="M506.5 3V16M504 13.5H517" stroke="#505050" stroke-width="1.2" fill="none"/><path d="M506.5 1.5l-1.8 2.5h3.6zM518.5 13.5l-2.5 -1.8v3.6z" fill="#505050"/>
<path d="M512.6 2V11.5" stroke="#2070b0" stroke-width="1.2"/><path d="M513.6 7.5H518M513.6 7.5l2.6 -2.2M513.6 7.5l2.6 2.2" stroke="#e04010" stroke-width="1.1" fill="none"/>
<path d="M538 1h7l3.5 3.5v8.7h-10.5z" fill="#fafafa" stroke="#7c7c7c" stroke-width="1"/><path d="M545 1v3.5h3.5" fill="#e4e4e4" stroke="#7c7c7c" stroke-width="0.8"/><path d="M541 4.5v6M540 6h2M543.5 3.5v5" stroke="#8a8a8a" stroke-width="0.9"/>
<path d="M545.4 7.2h3.6v3.4h3.6v3.6h-3.6v3.4h-3.6v-3.4h-3.6v-3.6h3.6z" fill="url(#gplus)" stroke="#0c8c0c" stroke-width="0.8"/>
<path d="M558.8 7h5.4l-2.7 3z" fill="#000"/>
<path d="M597.8 7h5.4l-2.7 3z" fill="#000"/>
<path d="M636.8 7h5.4l-2.7 3z" fill="#000"/>
<path d="M943 7h5.4l-2.7 3z" fill="#000"/>
<circle cx="583" cy="8.2" r="6.7" fill="#f8fbff" stroke="#1a5cc4" stroke-width="2.5"/><path d="M582.5 3.5V8.2L585.5 9" stroke="#404040" stroke-width="1.1" fill="none"/><path d="M583 13v-1M578.5 8h1M587.5 8h-1" stroke="#9ab" stroke-width="0.8"/>
<rect x="614.5" y="1.5" width="15" height="13" fill="#fff" stroke="#3a70d0" stroke-width="1.2"/><rect x="615" y="1.8" width="14" height="2" fill="#6c9ce8"/><path d="M615 9.3h14" stroke="#3a70d0" stroke-width="0.8"/><path d="M616.5 7.3l2-0.6 1.5-1 2 0.6 1.5 -1.2 2 0.8 2 -1" stroke="#b02810" stroke-width="1.2" fill="none"/><path d="M616.5 12.7l2.2-0.6 1.6 0.4 2-1.4 1.8-1 1.6 1.6 1.6 0.8" stroke="#18902c" stroke-width="1.2" fill="none"/>
<path d="M666.3 1L666.3 12.2L669 9.8L671.2 14.8L673 14L670.8 9.2L674.3 9z" fill="#505050"/>
<path d="M691 8.5H697M700 8.5H706M698.5 1V7M698.5 10V16" stroke="#505050" stroke-width="1"/>
<path d="M732.5 2V14.5M755 8.5H767" stroke="#505050" stroke-width="1.2"/><path d="M783 14.7L795 3" stroke="#505050" stroke-width="1.1"/>
<path d="M809.5 9.5L819.5 1.5M811 14L822 5.5" stroke="#505050" stroke-width="1"/><path d="M811 13l2.2-6M813.6 11.2l2.2-6M816.2 9.2l2.2-6M818.8 7.2l2-6" stroke="#505050" stroke-width="0.9"/>
<text x="819.8" y="16.6" font-family="Liberation Sans, sans-serif" font-size="6.5" font-weight="bold" fill="#404040">E</text>
<path d="M838 1.5H851" stroke="#505050" stroke-width="1" stroke-dasharray="1 1"/>
<path d="M838 4.2H851" stroke="#505050" stroke-width="1" stroke-dasharray="1 1"/>
<path d="M838 8.5H851" stroke="#505050" stroke-width="1" stroke-dasharray="1 1"/>
<path d="M838 12.5H847" stroke="#505050" stroke-width="1" stroke-dasharray="1 1"/>
<text x="847.6" y="16.6" font-family="Liberation Sans, sans-serif" font-size="6.5" font-weight="bold" fill="#404040">F</text>
<text x="868.2" y="13" font-family="Liberation Sans, sans-serif" font-size="13" fill="#5a5a5a" stroke="#5a5a5a" stroke-width="0.4">A</text>
<rect x="895.5" y="2.2" width="11.5" height="12.3" fill="none" stroke="#606060" stroke-width="1" stroke-dasharray="1 1"/>
<text x="897" y="12.6" font-family="Liberation Sans, sans-serif" font-size="10.5" fill="#505050" stroke="#505050" stroke-width="0.4">T</text>
<path d="M925 2l3 3l-3 2.2l-3-2.2zM932.5 10.5l3 2.2l-3 3l-3-3z" fill="#505050"/><path d="M924.5 9.2l2.2 2.2l4.2-5" stroke="#505050" stroke-width="1.2" fill="none"/>
<text x="969.4" y="12" font-family="Liberation Sans, sans-serif" font-size="9.5" fill="#484848" textLength="13" lengthAdjust="spacingAndGlyphs">M1</text>
<text x="997.4" y="12" font-family="Liberation Sans, sans-serif" font-size="9.5" fill="#484848" textLength="13" lengthAdjust="spacingAndGlyphs">M5</text>
<text x="1023.2" y="12" font-family="Liberation Sans, sans-serif" font-size="9.5" fill="#484848" textLength="18" lengthAdjust="spacingAndGlyphs">M15</text>
<text x="1051.2" y="12" font-family="Liberation Sans, sans-serif" font-size="9.5" fill="#484848" textLength="18.1" lengthAdjust="spacingAndGlyphs">M30</text>
<text x="1082.5" y="12" font-family="Liberation Sans, sans-serif" font-size="9.5" fill="#484848" textLength="11.8" lengthAdjust="spacingAndGlyphs">H1</text>
<text x="1109.3" y="12" font-family="Liberation Sans, sans-serif" font-size="9.5" fill="#484848" textLength="12.5" lengthAdjust="spacingAndGlyphs">H4</text>
<text x="1138.1" y="12" font-family="Liberation Sans, sans-serif" font-size="9.5" fill="#484848" textLength="12.5" lengthAdjust="spacingAndGlyphs">D1</text>
<text x="1165.6" y="12" font-family="Liberation Sans, sans-serif" font-size="9.5" fill="#484848" textLength="14.5" lengthAdjust="spacingAndGlyphs">W1</text>
<text x="1192.2" y="12" font-family="Liberation Sans, sans-serif" font-size="9.5" fill="#484848" textLength="15.5" lengthAdjust="spacingAndGlyphs">MN</text>
<path d="M1683.2 8L1678.2 12.8" stroke="#2458cc" stroke-width="2.2" stroke-linecap="round"/><circle cx="1685.7" cy="5.3" r="3.8" fill="#fff" stroke="#2a5fd8" stroke-width="1.2"/>
<path d="M1720.5 10l0.8 1.8l-2.6-1.4z" fill="#888"/><ellipse cx="1718" cy="5.3" rx="6.3" ry="5.4" fill="#f4f4f6" stroke="#a0a0a0" stroke-width="1"/><path d="M1706.5 12.8l-0.4 2l2.4-1.4z" fill="#888"/><ellipse cx="1709.5" cy="9.5" rx="4.9" ry="4" fill="#f4f4f6" stroke="#a0a0a0" stroke-width="1"/>
<rect x="0" y="44" width="215" height="64" fill="#fff"/>
<rect x="0" y="44" width="47" height="24" fill="url(#gt)"/>
<rect x="163" y="44" width="52" height="24" fill="url(#gt)"/>
<rect x="0" y="68" width="105" height="40" fill="url(#gb)"/>
<rect x="107" y="68" width="108" height="40" fill="url(#gb)"/>
<rect x="0" y="67" width="44" height="1" fill="#8080ee"/><rect x="167" y="67" width="44" height="1" fill="#8080ee"/>
<rect x="50.5" y="44.5" width="110" height="21" fill="#fff" stroke="#b8b8b8" stroke-width="1"/>
<rect x="51.5" y="45.5" width="19" height="19" fill="url(#gbtn)" stroke="#c4c4c4" stroke-width="0.6"/><rect x="140" y="45.5" width="19.5" height="19" fill="url(#gbtn)" stroke="#c4c4c4" stroke-width="0.6"/>
<path d="M58.3 53.5h4.4l-2.2 2.6z" fill="#5060c0"/><path d="M147.3 56h4.4l-2.2-2.6z" fill="#5060c0"/>
<text x="135.6" y="58.7" text-anchor="end" font-family="Liberation Sans, sans-serif" font-size="11.5" fill="#000">1.00</text>
<text x="8.6" y="60" font-family="Liberation Sans, sans-serif" font-size="12" fill="#fff" textLength="25" lengthAdjust="spacingAndGlyphs">SELL</text>
<text x="176.5" y="60" font-family="Liberation Sans, sans-serif" font-size="12" fill="#fff" textLength="23" lengthAdjust="spacingAndGlyphs">BUY</text>
<text x="16.6" y="98.5" font-family="Liberation Sans, sans-serif" font-size="11.5" font-weight="bold" fill="#fff" textLength="23.3" lengthAdjust="spacingAndGlyphs">1.18</text>
<text x="44.4" y="98.5" font-family="Liberation Sans, sans-serif" font-size="33.3" fill="#fff" stroke="url(#gb)" stroke-width="0.7" textLength="33" lengthAdjust="spacingAndGlyphs">53</text>
<text x="83" y="82.6" font-family="Liberation Sans, sans-serif" font-size="11.5" font-weight="bold" fill="#fff">8</text>
<text x="126.3" y="98.5" font-family="Liberation Sans, sans-serif" font-size="11.5" font-weight="bold" fill="#fff" textLength="23.3" lengthAdjust="spacingAndGlyphs">1.18</text>
<text x="156" y="98.5" font-family="Liberation Sans, sans-serif" font-size="33.3" fill="#fff" stroke="url(#gb)" stroke-width="0.7" textLength="33" lengthAdjust="spacingAndGlyphs">72</text>
<text x="194.3" y="82.6" font-family="Liberation Sans, sans-serif" font-size="11.5" font-weight="bold" fill="#fff">3</text>
</svg>
</body></html>
